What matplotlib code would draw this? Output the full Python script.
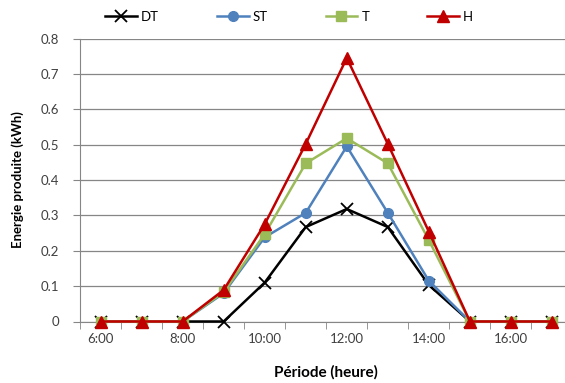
import matplotlib
matplotlib.use("Agg")
import matplotlib.pyplot as plt
from matplotlib.ticker import FixedLocator

hours = ["6:00", "7:00", "8:00", "9:00", "10:00", "11:00", "12:00",
         "13:00", "14:00", "15:00", "16:00", "17:00"]
dt = [0, 0, 0, 0, 0.11, 0.267, 0.318, 0.267, 0.103, 0, 0, 0]
st = [0, 0, 0, 0.08, 0.238, 0.307, 0.495, 0.307, 0.115, 0, 0, 0]
t = [0, 0, 0, 0.083, 0.247, 0.447, 0.518, 0.447, 0.23, 0, 0, 0]
h = [0, 0, 0, 0.089, 0.275, 0.502, 0.745, 0.502, 0.254, 0, 0, 0]

plt.rcParams['font.family'] = ['Lato', 'DejaVu Sans']

W, H = 565, 383
fig = plt.figure(figsize=(W / 100, H / 100), dpi=100)
left, right, top, bottom = 80, 572.5, 38.5, 321.5
ax = fig.add_axes([left / W, 1 - bottom / H, (right - left) / W, (bottom - top) / H])

x = list(range(len(hours)))
ax.plot(x, dt, color='black', lw=1.8, marker='x', ms=8, mew=1.3, label='DT', zorder=3, clip_on=False)
ax.plot(x, st, color='#4F81BD', lw=1.8, marker='o', ms=7, label='ST', zorder=4, clip_on=False)
ax.plot(x, t, color='#9BBB59', lw=1.8, marker='s', ms=7.5, label='T', zorder=5, clip_on=False)
ax.plot(x, h, color='#C00000', lw=1.8, marker='^', ms=8, label='H', zorder=6, clip_on=False)

ax.set_xlim(-0.5, len(hours) - 0.5)
ax.set_ylim(0, 0.8)
ax.set_yticks([i / 10 for i in range(9)])
ax.set_yticklabels(['0'] + [f'{v/10:.1f}' for v in range(1, 9)])
ax.grid(axis='y', color='#868686', lw=0.9)
ax.set_axisbelow(True)

ax.set_xticks([i for i in x if i % 2 == 0])
ax.set_xticklabels([hours[i] for i in x if i % 2 == 0])
ax.xaxis.set_minor_locator(FixedLocator([i - 0.5 for i in range(len(hours) + 1)]))
ax.tick_params(axis='x', which='major', length=0, pad=8, labelsize=9.5, colors='#404040')
ax.tick_params(axis='x', which='minor', length=5, color='#868686', direction='out')
ax.tick_params(axis='y', length=5, color='#868686', labelsize=9.5, labelcolor='#404040', pad=10)

for s in ['top', 'right']:
    ax.spines[s].set_visible(False)
for s in ['left', 'bottom']:
    ax.spines[s].set_color('#868686')

ax.set_ylabel('Energie produite (kWh)', fontsize=9.5, fontweight='bold', labelpad=12)
ax.set_xlabel('Période (heure)', fontsize=11, fontweight='bold', labelpad=15)

leg = fig.legend(loc='center', bbox_to_anchor=(289 / W, 1 - 17 / H), ncol=4, frameon=False,
                 fontsize=9.5, handlelength=2.4, columnspacing=4.4, handletextpad=0.3)

fig.savefig('out.png', dpi=100)
